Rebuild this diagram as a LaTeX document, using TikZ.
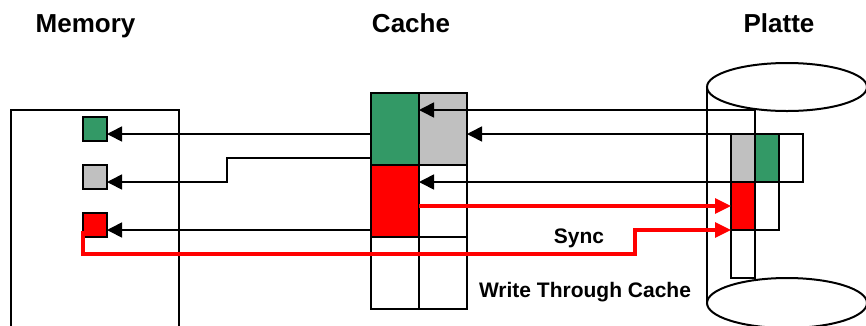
\documentclass[tikz,border=0pt]{standalone}
\usepackage{fontspec}
\setmainfont{Liberation Sans}
\usepackage{xcolor}
\usetikzlibrary{arrows.meta}
\definecolor{blkgreen}{HTML}{339966}
\definecolor{blkgray}{HTML}{C0C0C0}
\definecolor{blkred}{HTML}{FF0000}
\newcommand{\titlefont}{\bfseries\fontsize{26}{30}\selectfont}
\newcommand{\labelfont}{\bfseries\fontsize{21}{25}\selectfont}

\begin{document}
\begin{tikzpicture}[x=1pt,y=-1pt,
    memcell/.style={draw,line width=2pt,minimum width=24pt,minimum height=24pt,inner sep=0pt,outer sep=0pt},
    cachecell/.style={draw,line width=2pt,minimum width=48pt,minimum height=72pt,inner sep=0pt,outer sep=0pt},
    diskcell/.style={draw,line width=2pt,minimum width=24pt,minimum height=48pt,inner sep=0pt,outer sep=0pt},
    conn/.style={line width=1.6pt,-{Triangle[length=15pt,width=15pt]}},
    redconn/.style={blkred,line width=3.2pt,-{Triangle[length=16pt,width=15pt]}},
    title/.style={anchor=base,font=\titlefont},
    lbl/.style={anchor=base,font=\labelfont}]
  \useasboundingbox (0,0) rectangle (866,325);
  \node[title] (tmem) at (85.5,32) {Memory};
  \node[title] (tcache) at (411,32) {Cache};
  \node[title] (tdisk) at (779,32) {Platte};

  \draw[line width=2pt] (11,330) |- (179,110) -- (179,330);
  \node[memcell,fill=blkgreen] (memG) at (95,129) {};
  \node[memcell,fill=blkgray] (memY) at (95,177) {};
  \node[memcell,fill=blkred] (memR) at (95,225) {};

  \node[cachecell,fill=blkgreen] (cG) at (395,129) {};
  \node[cachecell,fill=blkgray] (cY) at (443,129) {};
  \node[cachecell,fill=blkred] (cR) at (395,201) {};
  \node[cachecell] (cW) at (443,201) {};
  \node[cachecell] (cL) at (395,273) {};
  \node[cachecell] (cM) at (443,273) {};

  \draw[line width=2pt] (707,87) -- (707,303) (867,87) -- (867,303);
  \draw[line width=2pt,fill=white] (787,87) ellipse [x radius=80,y radius=24];
  \draw[line width=2pt] (787,303) ellipse [x radius=80,y radius=25];
  \node[diskcell,fill=blkgray] (dY) at (743,158) {};
  \node[diskcell,fill=blkgreen] (dG) at (767,158) {};
  \node[diskcell] (dW) at (791,158) {};
  \node[diskcell,fill=blkred] (dR) at (743,206) {};
  \node[diskcell] (dV) at (767,206) {};
  \node[diskcell] (dU) at (743,254) {};

  \coordinate (bend) at (227,158);
  \coordinate (sync) at (635,254);
  \draw[conn] ([yshift=-5pt]cG.west) -- ([yshift=-5pt]memG.east);
  \draw[conn] ([yshift=-29pt]cG.west) -- (bend) |- ([yshift=-5pt]memY.east);
  \draw[conn] ([yshift=-29pt]cR.west) -- ([yshift=-5pt]memR.east);
  \draw[conn] (dG.north west) |- ([yshift=19pt]cY.west);
  \draw[conn] (dY.north west) -- ([yshift=-5pt]cY.east);
  \draw[conn] (dY.south west) -- ([yshift=19pt]cW.west);
  \draw[redconn] ([yshift=-5pt]cR.east) -- (dR.west);
  \draw[redconn] ([yshift=-6pt]memR.west) |- (sync) |- (dR.south west);

  \node[lbl] (synclbl) at (579,243) {Sync};
  \node[lbl] (wtc) at (585,297) {Write Through Cache};
\end{tikzpicture}
\end{document}
